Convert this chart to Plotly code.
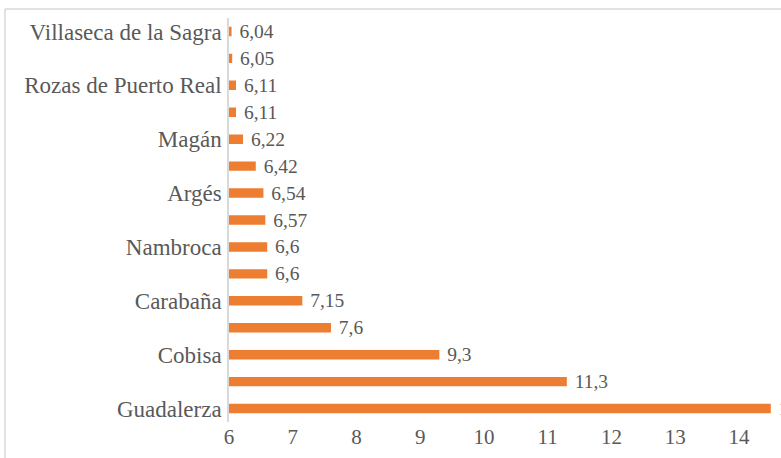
import plotly.graph_objects as go

# top to bottom, as shown in the chart (blank = label not shown)
categories = [
    "Villaseca de la Sagra", "", "Rozas de Puerto Real", "", "Magán",
    "", "Argés", "", "Nambroca", "", "Carabaña", "", "Cobisa", "", "Guadalerza",
]
values = [6.04, 6.05, 6.11, 6.11, 6.22, 6.42, 6.54, 6.57, 6.6, 6.6, 7.15, 7.6, 9.3, 11.3, 14.5]
x_ticks = [6, 7, 8, 9, 10, 11, 12, 13, 14]

BAR = "#ED7D31"
TXT = "#595959"
FONT = "Liberation Serif, Times New Roman, serif"

idx = list(range(len(categories)))
labels = [" " + str(v).replace(".", ",") for v in values]

fig = go.Figure(go.Bar(
    x=values, y=idx, orientation="h",
    marker=dict(color=BAR, line=dict(width=0)),
    text=labels, textposition="outside", cliponaxis=False, constraintext="none",
    textfont=dict(family=FONT, size=19.5, color=TXT),
    hoverinfo="skip",
))

fig.update_layout(
    width=781, height=458,
    margin=dict(l=229, r=0, t=18, b=36),
    paper_bgcolor="white", plot_bgcolor="white",
    bargap=0.65, showlegend=False,
    font=dict(family=FONT, color=TXT),
    xaxis=dict(range=[6, 14.66], tickvals=x_ticks, showgrid=False, zeroline=False,
               showline=False, ticks="", automargin=False,
               tickfont=dict(size=21, color=TXT)),
    yaxis=dict(tickvals=idx, ticktext=categories, autorange="reversed",
               showgrid=False, zeroline=False, showline=True, linecolor="#d9d9d9",
               linewidth=1.5, ticks="", ticklabelstandoff=1, automargin=False,
               tickfont=dict(size=23, color=TXT)),
    # chart-area border (top and left edges visible in the crop)
    shapes=[
        dict(type="line", xref="paper", yref="paper", x0=(5 - 229) / 552, x1=1.1,
             y0=(422 - 9) / 404, y1=(422 - 9) / 404, line=dict(color="#d9d9d9", width=1.5)),
        dict(type="line", xref="paper", yref="paper", x0=(5 - 229) / 552, x1=(5 - 229) / 552,
             y0=(422 - 9) / 404, y1=-0.2, line=dict(color="#d9d9d9", width=1.5)),
    ],
)

fig.write_html("out.html", config={"displayModeBar": False},
               post_script="document.body.style.margin='0';")
